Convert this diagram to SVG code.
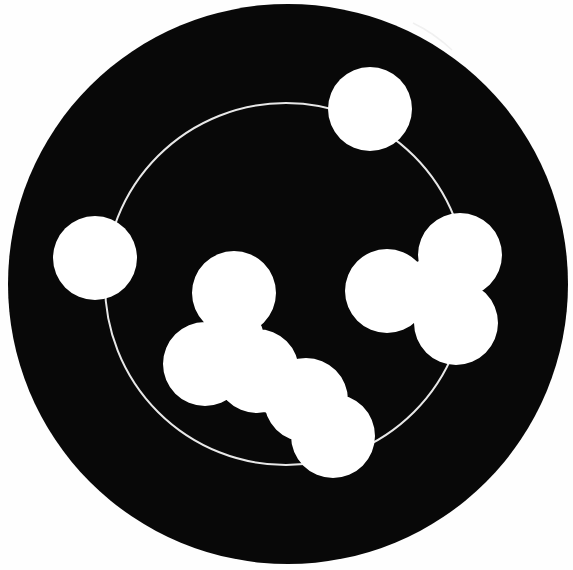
<svg xmlns="http://www.w3.org/2000/svg" width="573" height="570" viewBox="0 0 573 570">
  <style>
    .disc { fill: #080808; }
    .orbit { fill: none; stroke: #e8e8e8; stroke-width: 2; }
    .blob { fill: #ffffff; fill-rule: nonzero; }
  </style>
  <rect width="573" height="570" fill="#fefefe"/>
  <g id="disc">
    <circle class="disc" cx="288" cy="284" r="280"/>
    <path d="M413,23 Q434,33 452,50" fill="none" stroke="#f0f0f0" stroke-width="1.5"/>
  </g>
  <g id="orbit">
    <circle class="orbit" cx="286" cy="284" r="181"/>
  </g>
  <g id="top-circle">
    <circle class="blob" cx="370" cy="109" r="42"/>
  </g>
  <g id="left-circle">
    <circle class="blob" cx="95" cy="258" r="42"/>
  </g>
  <g id="right-cluster">
    <path class="blob" d="M345,291 a42,42 0 1,0 84,0 a42,42 0 1,0 -84,0 Z
      M418,255 a42,42 0 1,0 84,0 a42,42 0 1,0 -84,0 Z
      M414,323 a42,42 0 1,0 84,0 a42,42 0 1,0 -84,0 Z
      M400,290 a32,32 0 1,0 64,0 a32,32 0 1,0 -64,0 Z"/>
  </g>
  <g id="lower-cluster">
    <path class="blob" d="M192,293 a42,42 0 1,0 84,0 a42,42 0 1,0 -84,0 Z
      M163,364 a42,42 0 1,0 84,0 a42,42 0 1,0 -84,0 Z
      M215,371 a42,42 0 1,0 84,0 a42,42 0 1,0 -84,0 Z
      M264,400 a42,42 0 1,0 84,0 a42,42 0 1,0 -84,0 Z
      M291,436 a42,42 0 1,0 84,0 a42,42 0 1,0 -84,0 Z
      M204,338 a30,30 0 1,0 60,0 a30,30 0 1,0 -60,0 Z
      M260,395 a30,30 0 1,0 60,0 a30,30 0 1,0 -60,0 Z"/>
  </g>
</svg>
